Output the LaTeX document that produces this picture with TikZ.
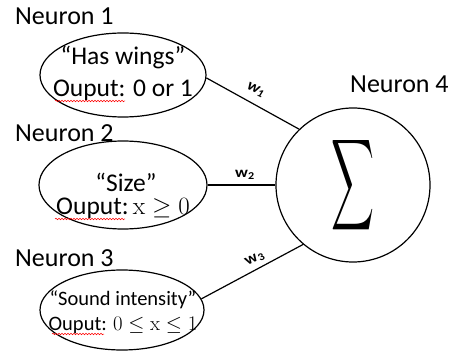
\documentclass[tikz,border=0pt]{standalone}
\usepackage{fontspec}
\setmainfont{Carlito}
\setmathrm{Latin Modern Roman}
\usetikzlibrary{shapes.geometric,decorations.pathmorphing}
\tikzset{
  ttl/.style={font=\fontsize{26}{30}\selectfont, inner sep=0pt, anchor=base west},
  big/.style={font=\fontsize{25.5}{30}\selectfont, inner sep=0pt, anchor=base},
  small/.style={font=\fontsize{20.5}{24}\selectfont, inner sep=0pt, anchor=base},
  oval/.style={draw, line width=1.2pt, ellipse, inner sep=0pt},
  link/.style={line width=1.2pt},
  wlab/.style={font=\fontsize{15}{17}\selectfont\bfseries, inner sep=0pt, xscale=1.15},
  squig/.style={red, line width=0.5pt, decorate, decoration={snake, amplitude=0.8pt, segment length=3pt}}
}
\begin{document}
\begin{tikzpicture}[x=1pt,y=-1pt]
\useasboundingbox (0,0) rectangle (457,352);
% ellipses
\node[oval, minimum width=166pt, minimum height=84pt] (e1) at (123,75) {};
\node[oval, minimum width=168pt, minimum height=88pt] (e2) at (123,185) {};
\node[oval, minimum width=164pt, minimum height=80pt] (e3) at (122,310) {};
\node[draw, circle, line width=1.2pt, minimum size=154pt, inner sep=0pt] (c) at (353,185) {};
% titles
\node[ttl] (t1) at (15,25) {Neuron 1};
\node[ttl] (t2) at (15,142) {Neuron 2};
\node[ttl] (t3) at (15,266) {Neuron 3};
\node[ttl] (t4) at (350,93) {Neuron 4};
% ellipse texts
\node[big] (a1) at (123,65) {“Has wings”};
\node[big] (b1) at (123,97) {Ouput: 0 or 1};
\node[big] (a2) at (126,192) {“Size”};
\node[big] (b2) at (123,215) {Ouput:$\,\mathrm{x}\geq 0$};
\node[small] (a3) at (123,305) {“Sound intensity”};
\node[small] (b3) at (123,330) {Ouput: $0\leq \mathrm{x}\leq 1$};
% spell-check squiggles
\draw[squig] (55,101) -- (125,101);
\draw[squig] (55,219) -- (125,219);
\draw[squig] (52,334) -- (104,334);
% sigma
\node[inner sep=0pt] (s) at (353,185) {\resizebox{43pt}{67pt}{$\displaystyle\sum$}};
% connectors
\draw[link] (e1.-2) -- (c.134);
\draw[link] (e2.east) -- (c.west);
\draw[link] (e3.8) -- (c.-130);
% weights
\node[wlab, rotate=-28] (w1) at (256,90) {w\textsubscript{1}};
\node[wlab] (w2) at (245,175) {w\textsubscript{2}};
\node[wlab, rotate=28] (w3) at (255,259) {w\textsubscript{3}};
\end{tikzpicture}
\end{document}
